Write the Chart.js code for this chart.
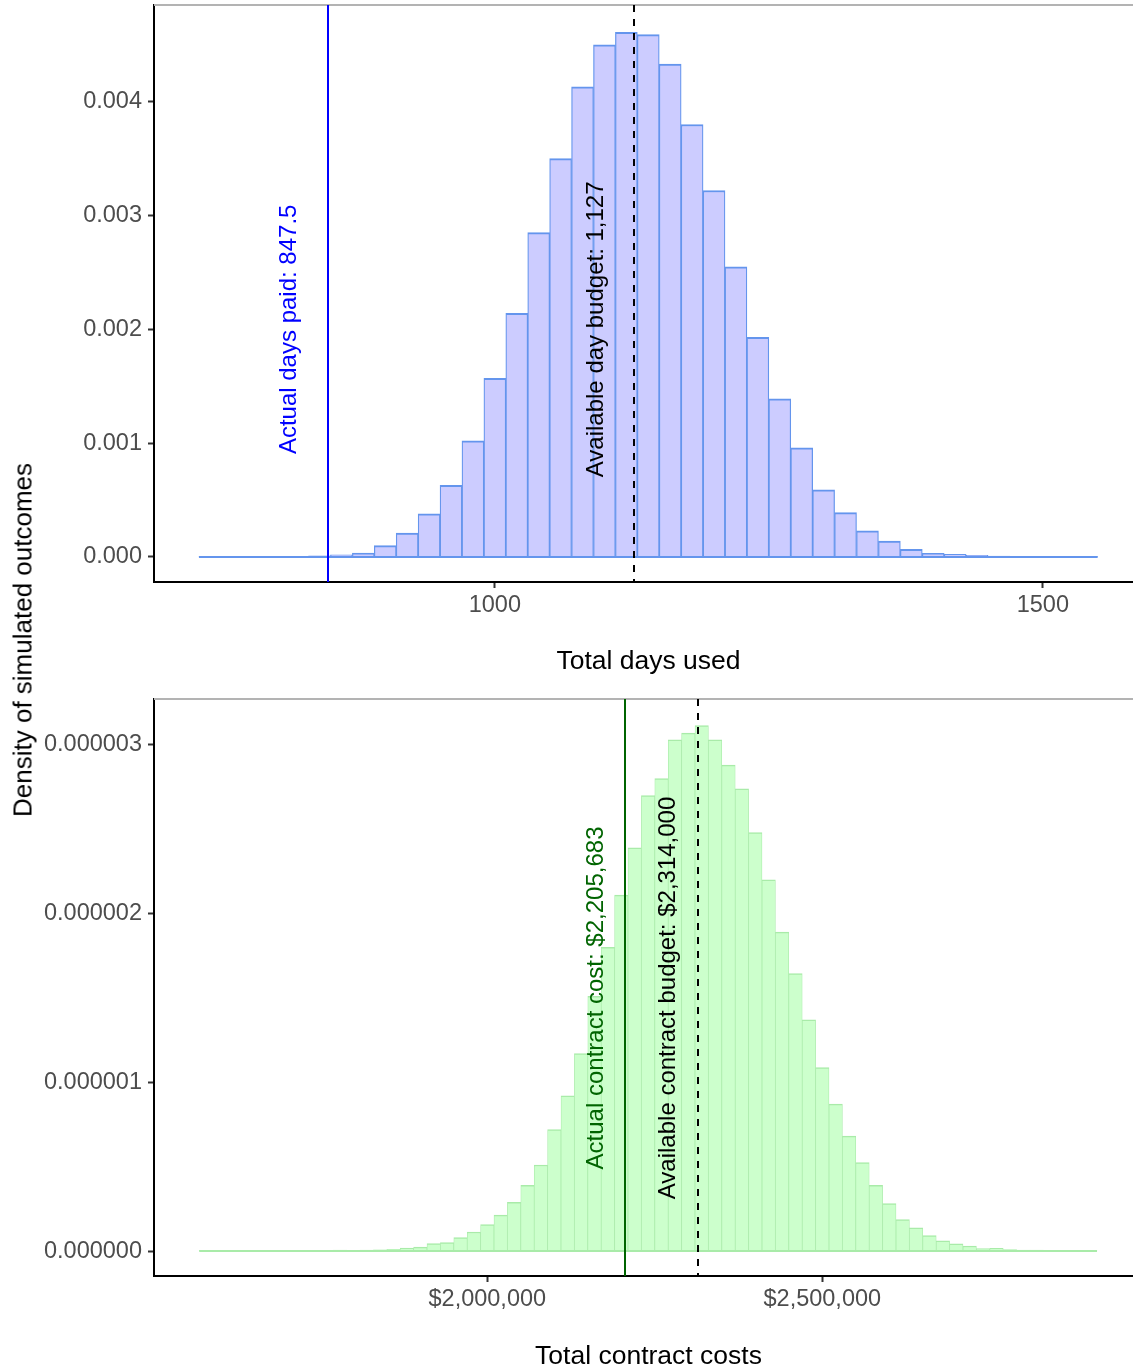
<!DOCTYPE html>
<html>
<head>
<meta charset="utf-8">
<title>Simulated outcomes</title>
<script src="https://cdn.jsdelivr.net/npm/chart.js@4/dist/chart.umd.min.js"></script>
<style>
  html, body { margin: 0; padding: 0; background: #fff; overflow: hidden; }
  #wrap { position: relative; width: 1133px; height: 1370px; overflow: hidden; }
  #c1 { position: absolute; left: 0; top: 0; }
  #c2 { position: absolute; left: 0; top: 690px; }
  #ytitle {
    position: absolute; left: 23px; top: 640px;
    transform: translate(-50%, -50%) rotate(-90deg);
    font: 26px 'Liberation Sans', Arial, sans-serif;
    color: #000; white-space: nowrap;
  }
</style>
</head>
<body>
<div id="wrap">
  <canvas id="c1" width="1143" height="690"></canvas>
  <canvas id="c2" width="1143" height="700"></canvas>
  <div id="ytitle">Density of simulated outcomes</div>
</div>
<script>
// ---- Total days used: histogram (bin centres, width 20 days) ----
const dayBins = [740, 760, 780, 800, 820, 840, 860, 880, 900, 920, 940, 960, 980,
  1000, 1020, 1040, 1060, 1080, 1100, 1120, 1140, 1160, 1180, 1200, 1220, 1240,
  1260, 1280, 1300, 1320, 1340, 1360, 1380, 1400, 1420, 1440, 1460, 1480, 1500,
  1520, 1540];
const dayDensity = [0.000001, 0.000001, 0.000002, 0.000003, 0.000005, 0.00001,
  0.000018, 0.000035, 0.0001, 0.00021, 0.00038, 0.00063, 0.00102,
  0.00157, 0.00214, 0.00285, 0.0035, 0.00413, 0.0045, 0.00461, 0.00459, 0.00433,
  0.0038, 0.00322, 0.00255, 0.00193, 0.00139, 0.00096, 0.00059, 0.00039, 0.00023,
  0.00014, 0.000067, 0.000032, 0.000023, 0.000014, 0.000008, 0.000003, 0.000002,
  0.000001, 0.000001];
const dayRange = [730, 1550];
const dayTicks = [1000, 1500];
const dayDensityTicks = [0, 0.001, 0.002, 0.003, 0.004];
const actualDays = 847.5;
const dayBudget = 1127;

// ---- Total contract costs: histogram (bin centres, width $20,000) ----
const costBins = [1580000, 1600000, 1620000, 1640000, 1660000, 1680000, 1700000,
  1720000, 1740000, 1760000, 1780000, 1800000, 1820000, 1840000, 1860000, 1880000,
  1900000, 1920000, 1940000, 1960000, 1980000, 2000000, 2020000, 2040000, 2060000,
  2080000, 2100000, 2120000, 2140000, 2160000, 2180000, 2200000, 2220000, 2240000,
  2260000, 2280000, 2300000, 2320000, 2340000, 2360000, 2380000, 2400000, 2420000,
  2440000, 2460000, 2480000, 2500000, 2520000, 2540000, 2560000, 2580000, 2600000,
  2620000, 2640000, 2660000, 2680000, 2700000, 2720000, 2740000, 2760000, 2780000,
  2800000, 2820000, 2840000, 2860000, 2880000, 2900000];
const costDensity = [0.002e-6, 0.002e-6, 0.002e-6, 0.002e-6, 0.003e-6, 0.003e-6,
  0.003e-6, 0.003e-6, 0.004e-6, 0.004e-6, 0.005e-6, 0.004e-6, 0.005e-6, 0.007e-6,
  0.010e-6, 0.017e-6, 0.023e-6, 0.044e-6, 0.050e-6, 0.079e-6, 0.113e-6, 0.157e-6,
  0.213e-6, 0.288e-6, 0.39e-6, 0.51e-6, 0.72e-6, 0.92e-6, 1.17e-6, 1.51e-6,
  1.80e-6, 2.11e-6, 2.39e-6, 2.70e-6, 2.80e-6, 3.03e-6, 3.07e-6, 3.115e-6,
  3.03e-6, 2.88e-6, 2.74e-6, 2.48e-6, 2.20e-6, 1.89e-6, 1.645e-6, 1.37e-6,
  1.087e-6, 0.871e-6, 0.681e-6, 0.524e-6, 0.39e-6, 0.281e-6, 0.186e-6, 0.138e-6,
  0.091e-6, 0.061e-6, 0.043e-6, 0.030e-6, 0.014e-6, 0.016e-6, 0.009e-6, 0.006e-6,
  0.005e-6, 0.003e-6, 0.002e-6, 0.002e-6, 0.001e-6];
const costRange = [1570000, 2910000];
const costTicks = [2000000, 2500000];
const costDensityTicks = [0, 0.000001, 0.000002, 0.000003];
const actualCost = 2205683;
const costBudget = 2314000;

const FONT = "'Liberation Sans', Arial, sans-serif";
const money = v => '$' + Math.round(v).toLocaleString('en-US');

// Reference lines (vline + rotated label) and the grey panel top edge.
function makeRefPlugin(lines) {
  return {
    id: 'refLines',
    afterDatasetsDraw(chart) {
      const { ctx, chartArea: a, scales: { x, y } } = chart;
      ctx.save();
      // panel top edge
      ctx.strokeStyle = '#b3b3b3';
      ctx.lineWidth = 2;
      ctx.beginPath();
      ctx.moveTo(a.left, a.top);
      ctx.lineTo(a.right, a.top);
      ctx.stroke();
      lines.forEach(l => {
        const px = Math.round(x.getPixelForValue(l.value));
        ctx.strokeStyle = l.color;
        ctx.lineWidth = 2;
        ctx.setLineDash(l.dash || []);
        ctx.beginPath();
        ctx.moveTo(px, a.top);
        ctx.lineTo(px, a.bottom);
        ctx.stroke();
        ctx.setLineDash([]);
        const lx = x.getPixelForValue(l.value + l.labelShift);
        const ly = y.getPixelForValue(l.labelY);
        ctx.save();
        ctx.translate(lx, ly);
        ctx.rotate(-Math.PI / 2);
        ctx.fillStyle = l.color;
        ctx.font = '24px ' + FONT;
        ctx.textAlign = 'center';
        ctx.textBaseline = 'middle';
        ctx.fillText(l.label, 0, 0);
        ctx.restore();
      });
      ctx.restore();
    }
  };
}

function axisX(min, max, ticks, fmt, height, title, titlePad) {
  return {
    type: 'linear', min, max, offset: false,
    grid: { display: true, offset: false, drawOnChartArea: false, tickLength: 6, tickColor: '#333', tickWidth: 2 },
    border: { display: true, color: '#000', width: 2 },
    ticks: { font: { family: FONT, size: 23.5 }, color: '#4d4d4d', padding: 3, maxRotation: 0, minRotation: 0, autoSkip: false, callback: v => fmt(v) },
    afterBuildTicks: s => { s.ticks = ticks.map(v => ({ value: v })); },
    afterFit: s => { s.height = height; s.paddingLeft = 0; s.paddingRight = 0; },
    title: { display: true, text: title, font: { family: FONT, size: 26.5 }, color: '#000', padding: { top: 0, bottom: titlePad } }
  };
}

function axisY(min, max, ticks, digits) {
  return {
    type: 'linear', min, max,
    grid: { display: true, drawOnChartArea: false, tickLength: 6, tickColor: '#333', tickWidth: 2 },
    border: { display: true, color: '#000', width: 2 },
    ticks: { font: { family: FONT, size: 23.5 }, color: '#4d4d4d', padding: 6, autoSkip: false, callback: v => Number(v).toFixed(digits) },
    afterBuildTicks: s => { s.ticks = ticks.map(v => ({ value: v })); },
    afterFit: s => { s.width = 154; s.paddingTop = 0; s.paddingBottom = 0; }
  };
}

const common = {
  responsive: false,
  animation: false,
  events: [],
  plugins: { legend: { display: false }, tooltip: { enabled: false } }
};

// Panel 1: days
new Chart(document.getElementById('c1'), {
  type: 'bar',
  data: {
    datasets: [
      {
        type: 'line',
        data: [{ x: dayRange[0], y: 0 }, { x: dayRange[1], y: 0 }],
        borderColor: '#6495ed', borderWidth: 2, pointRadius: 0
      },
      {
        data: dayBins.map((b, i) => ({ x: b, y: dayDensity[i] })),
        backgroundColor: '#ccccff',
        borderColor: '#6495ed',
        borderWidth: { top: 2, left: 1.25, right: 1.25, bottom: 0 },
        borderSkipped: false,
        barPercentage: 1, categoryPercentage: 1
      }
    ]
  },
  options: Object.assign({}, common, {
    layout: { padding: { top: 5, right: 0, bottom: 0, left: 0 } },
    scales: {
      x: axisX(689, 1591.4, dayTicks, v => String(v), 108, 'Total days used', 12.5),
      y: axisY(-0.00022, 0.00485, dayDensityTicks, 3)
    }
  }),
  plugins: [makeRefPlugin([
    { value: actualDays, color: '#0000ff', label: 'Actual days paid: ' + actualDays, labelShift: -35, labelY: 0.002 },
    { value: dayBudget, color: '#000000', dash: [7, 7], label: 'Available day budget: ' + dayBudget.toLocaleString('en-US'), labelShift: -34, labelY: 0.002 }
  ])]
});

// Panel 2: contract costs
new Chart(document.getElementById('c2'), {
  type: 'bar',
  data: {
    datasets: [
      {
        type: 'line',
        data: [{ x: costRange[0], y: 0 }, { x: costRange[1], y: 0 }],
        borderColor: '#a9eba9', borderWidth: 2, pointRadius: 0
      },
      {
        data: costBins.map((b, i) => ({ x: b, y: costDensity[i] })),
        backgroundColor: '#ccffcc',
        borderColor: '#a9eba9',
        borderWidth: { top: 1.5, left: 0.75, right: 0.75, bottom: 0 },
        borderSkipped: false,
        barPercentage: 1, categoryPercentage: 1
      }
    ]
  },
  options: Object.assign({}, common, {
    layout: { padding: { top: 9, right: 0, bottom: 0, left: 0 } },
    scales: {
      x: axisX(1502540, 2978650, costTicks, money, 114, 'Total contract costs', 17.5),
      y: axisY(-0.000000148, 0.000003272, costDensityTicks, 6)
    }
  }),
  plugins: [makeRefPlugin([
    { value: actualCost, color: '#006400', label: 'Actual contract cost: ' + money(actualCost), labelShift: -43000, labelY: 0.0000015 },
    { value: costBudget, color: '#000000', dash: [7, 7], label: 'Available contract budget: ' + money(costBudget), labelShift: -44000, labelY: 0.0000015 }
  ])]
});
</script>
</body>
</html>
